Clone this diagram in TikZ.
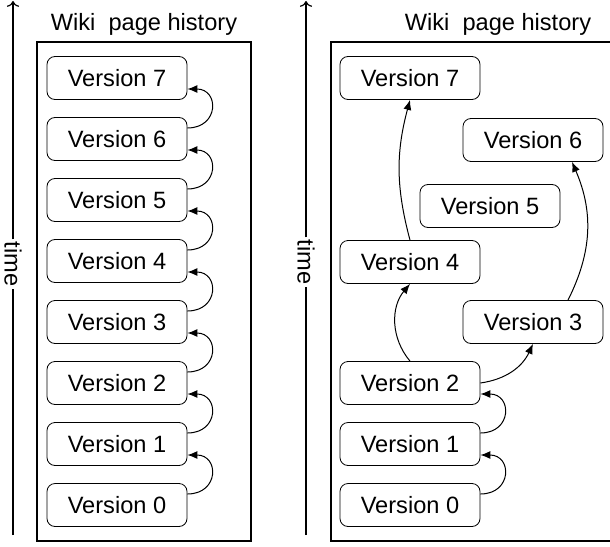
\documentclass[tikz,border=0pt]{standalone}
\usepackage{fontspec}
\setmainfont{Liberation Sans}
\usetikzlibrary{arrows.meta}
\begin{document}
\begin{tikzpicture}[x=0.5pt,y=-0.5pt,
		every node/.style={font=\fontsize{11.8}{14}\selectfont},
		ver/.style={draw,rounded corners=4pt,line width=0.4pt,minimum width=70pt,minimum height=21.5pt,inner sep=0pt},
		hist/.style={line width=1pt},
		axis/.style={line width=0.6pt},
		link/.style={-{Latex[length=5pt,width=4pt]},line width=0.5pt},
		loopback/.style={link,out=0,in=0,looseness=2.1}]
		\useasboundingbox (0,0) rectangle (610,546);
		
		% left: linear history
		\coordinate (tb1) at (13,535);
		\coordinate (tt1) at (13,1);
		\node[rotate=-90,inner sep=1pt] (time1) at (13,264) {time};
		\draw[axis] (tb1) -- (time1);
		\draw[axis,->] (time1) -- (tt1);
		
		\node (title1) at (144,24) {Wiki\ \ page history};
		\draw[hist] (37,42) rectangle (251,541);
		
		\foreach \i in {0,...,7}
		\node[ver] (a\i) at (117,{505-61*\i}) {Version \i};
		\foreach \i/\j in {0/1,1/2,2/3,3/4,4/5,5/6,6/7}
		\draw[loopback] ([yshift=5.5pt]a\i.east) to ([yshift=-5.5pt]a\j.east);
		
		% right: branching history
		\coordinate (tb2) at (306,535);
		\coordinate (tt2) at (306,1);
		\node[rotate=-90,inner sep=1pt] (time2) at (306,262) {time};
		\draw[axis] (tb2) -- (time2);
		\draw[axis,->] (time2) -- (tt2);
		
		\node (title2) at (498,24) {Wiki\ \ page history};
		\draw[hist] (331,42) rectangle (640,541);
		
		\node[ver] (b0) at (410,505) {Version 0};
		\node[ver] (b1) at (410,444) {Version 1};
		\node[ver] (b2) at (410,383) {Version 2};
		\node[ver] (b3) at (533,322) {Version 3};
		\node[ver] (b4) at (410,262) {Version 4};
		\node[ver] (b5) at (490,206) {Version 5};
		\node[ver] (b6) at (533,140) {Version 6};
		\node[ver] (b7) at (410,78) {Version 7};
		
		\draw[loopback] ([yshift=5.5pt]b0.east) to ([yshift=-5.5pt]b1.east);
		\draw[loopback] ([yshift=5.5pt]b1.east) to ([yshift=-5.5pt]b2.east);
		\draw[link] (b2.east) to[out=8,in=-115] (b3.south);
		\draw[link] (b2.north) to[bend left=40] (b4.south);
		\draw[link] (b4.north) to[bend left=15] (b7.south);
		\draw[link] ([xshift=17.5pt]b3.north) to[bend right=25] ([xshift=19.5pt]b6.south);
\end{tikzpicture}
\end{document}
